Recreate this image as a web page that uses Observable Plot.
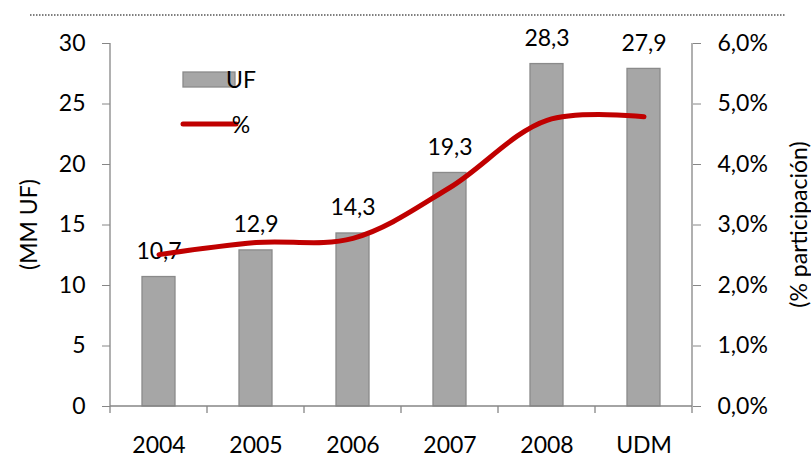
<!DOCTYPE html>
<html><head><meta charset="utf-8">
<script src="https://cdn.jsdelivr.net/npm/d3@7"></script>
<script src="https://cdn.jsdelivr.net/npm/@observablehq/plot@0.6"></script>
<style>body{margin:0;background:#fff}</style>
</head><body><div id="chart"></div>
<script>
const categories = ["2004", "2005", "2006", "2007", "2008", "UDM"];
const ufValues = [10.7, 12.9, 14.3, 19.3, 28.3, 27.9];
const pctValues = [2.51, 2.71, 2.78, 3.62, 4.73, 4.79];
const leftTicks = [0, 5, 10, 15, 20, 25, 30];
const rightTickLabels = ["0,0%", "1,0%", "2,0%", "3,0%", "4,0%", "5,0%", "6,0%"];
const leftTitle = "(MM UF)";
const rightTitle = "(% participación)";
const legendLabels = ["UF", "%"];

const pctToY = 30 / 6;
const fmt = v => v.toFixed(1).replace(".", ",");
const data = categories.map((c, i) => ({cat: c, uf: ufValues[i], pct: pctValues[i]}));

const axisGray = "#868686";
const font = "Lato, 'Open Sans', sans-serif";
const fs = 23;

const plot = Plot.plot({
  width: 811, height: 458,
  marginLeft: 110, marginRight: 119, marginTop: 43, marginBottom: 52,
  style: {fontFamily: font, fontSize: fs + "px", color: "#000", background: "#fff"},
  x: {domain: categories, paddingInner: 0.66, paddingOuter: 0.33, label: null},
  y: {domain: [0, 30], label: null},
  marks: [
    Plot.barY(data, {x: "cat", y: "uf", fill: "#a6a6a6", stroke: "#8a8a8a", strokeWidth: 1.3}),
    Plot.text(data, {x: "cat", y: "uf", text: d => fmt(d.uf), dy: -18, lineAnchor: "bottom", fontSize: fs, fill: "#000"}),
    Plot.line(data, {x: "cat", y: d => d.pct * pctToY, stroke: "#c00000", strokeWidth: 5, curve: "catmull-rom", strokeLinecap: "round", strokeLinejoin: "round"}),
    Plot.axisY({anchor: "left", ticks: leftTicks, tickSize: 8, tickPadding: 17, stroke: axisGray, fill: "#000", label: null, fontSize: fs}),
    Plot.axisY({anchor: "right", ticks: leftTicks, tickFormat: (d) => rightTickLabels[leftTicks.indexOf(d)], tickSize: 8, tickPadding: 17, stroke: axisGray, fill: "#000", label: null, fontSize: fs}),
    Plot.axisX({tickSize: 0, tickPadding: 30, fill: "#000", label: null, fontSize: fs})
  ]
});
document.getElementById("chart").appendChild(plot);

const svg = d3.select(plot);
const xs = plot.scale("x"), ys = plot.scale("y");
const [x0, x1] = xs.range;
const [yb, yt] = ys.range;
const n = categories.length;
const step = (x1 - x0) / n;
const g = svg.append("g").attr("stroke", axisGray).attr("stroke-width", 1.3);
g.append("line").attr("x1", x0).attr("x2", x0).attr("y1", yt).attr("y2", yb);
g.append("line").attr("x1", x1).attr("x2", x1).attr("y1", yt).attr("y2", yb);
g.append("line").attr("x1", x0).attr("x2", x1).attr("y1", yb).attr("y2", yb);
for (let i = 0; i <= n; i++) {
  const x = x0 + i * step;
  g.append("line").attr("x1", x).attr("x2", x).attr("y1", yb).attr("y2", yb + 7);
}

// top dotted rule
svg.append("line").attr("x1", 30).attr("x2", 785).attr("y1", 15).attr("y2", 15)
  .attr("stroke", "#555").attr("stroke-width", 1.5).attr("stroke-dasharray", "1.5 1.5");

// axis titles
svg.append("text").attr("transform", `translate(29,${(yt + yb) / 2}) rotate(-90)`)
  .attr("text-anchor", "middle").attr("dy", "0.35em").attr("font-size", fs).attr("font-family", font).attr("fill", "#000").text(leftTitle);
svg.append("text").attr("transform", `translate(799,${(yt + yb) / 2}) rotate(-90)`)
  .attr("text-anchor", "middle").attr("dy", "0.35em").attr("font-size", fs).attr("font-family", font).attr("fill", "#000").text(rightTitle);

// legend
const lg = svg.append("g").attr("font-family", font).attr("font-size", fs).attr("fill", "#000");
lg.append("rect").attr("x", 183).attr("y", 72).attr("width", 52).attr("height", 15)
  .attr("fill", "#a6a6a6").attr("stroke", "#8a8a8a").attr("stroke-width", 1.3);
lg.append("text").attr("x", 241).attr("y", 79.5).attr("dy", "0.35em").text(legendLabels[0]);
lg.append("line").attr("x1", 183).attr("x2", 236).attr("y1", 124).attr("y2", 124)
  .attr("stroke", "#c00000").attr("stroke-width", 5).attr("stroke-linecap", "round");
lg.append("text").attr("x", 241).attr("y", 125).attr("dy", "0.35em").text(legendLabels[1]);
</script>
</body></html>
